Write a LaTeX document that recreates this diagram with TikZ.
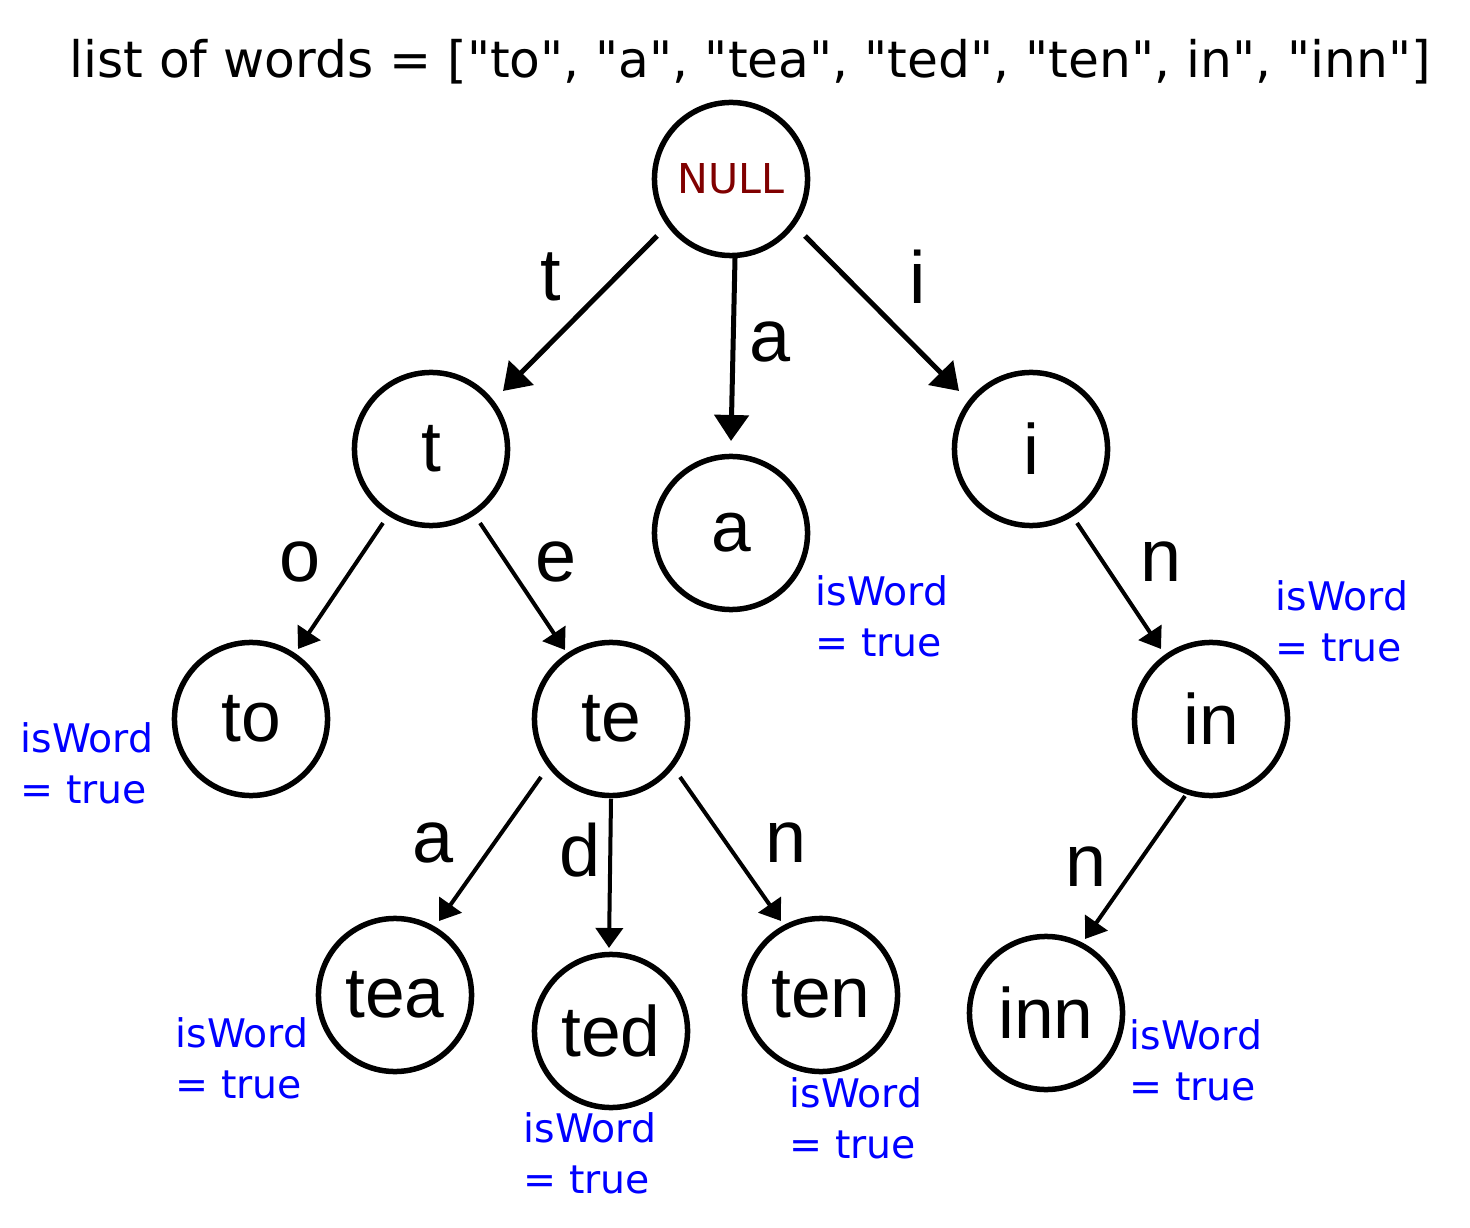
\documentclass[tikz,border=0pt]{standalone}
\usepackage{fontspec}
\setmainfont{DejaVu Sans}[Ligatures=TeXOff]
\newfontfamily\arialf{Liberation Sans}
\usetikzlibrary{arrows.meta}
\definecolor{nullred}{RGB}{128,0,0}
\begin{document}
\begin{tikzpicture}[x=0.01cm,y=-0.01cm,
  tnode/.style={circle,draw,line width=0.055cm,minimum size=1.53cm,inner sep=0pt,font=\arialf\fontsize{20.3pt}{24pt}\selectfont},
  elab/.style={inner sep=0pt,font=\arialf\fontsize{21pt}{24pt}\selectfont},
  iw/.style={text=blue,align=left,anchor=north west,inner sep=0pt,font=\fontsize{11.2pt}{14.4pt}\selectfont},
  bigarr/.style={line width=0.05cm,-{Triangle[length=0.26cm,width=0.34cm]}},
  smallarr/.style={line width=0.04cm,-{Triangle[length=0.2cm,width=0.27cm]}}]
\useasboundingbox[fill=white] (0,0) rectangle (1470,1228);

\node[inner sep=0pt,font=\fontsize{14.3pt}{17pt}\selectfont] (title) at (750,62) {list of words = ["to", "a", "tea", "ted", "ten", in", "inn"]};

\node[tnode,font=\fontsize{11.7pt}{14pt}\selectfont,text=nullred] (root) at (731,179) {NULL};
\node[tnode] (t) at (431,449) {t};
\node[tnode] (a) at (731,533) {a};
\node[tnode] (i) at (1031,449) {i};
\node[tnode] (to) at (251,719) {to};
\node[tnode] (te) at (611,719) {te};
\node[tnode] (in) at (1211,719) {in};
\node[tnode] (tea) at (395,995) {tea};
\node[tnode] (ted) at (611,1031) {ted};
\node[tnode] (ten) at (821,995) {ten};
\node[tnode] (inn) at (1046,1013) {inn};

\draw[bigarr] ([shift={(-74,57)}]root.center) -- ([shift={(72,-58)}]t.center);
\draw[bigarr] ([shift={(4,79)}]root.center) -- ([shift={(0,-92)}]a.center);
\draw[bigarr] ([shift={(74,57)}]root.center) -- ([shift={(-72,-58)}]i.center);
\draw[smallarr] ([shift={(-48,74)}]t.center) -- ([shift={(47,-70)}]to.center);
\draw[smallarr] ([shift={(49,74)}]t.center) -- ([shift={(-46,-69)}]te.center);
\draw[smallarr] ([shift={(-70,58)}]te.center) -- ([shift={(44,-74)}]tea.center);
\draw[smallarr] ([shift={(0,80)}]te.center) -- ([shift={(-2,-83)}]ted.center);
\draw[smallarr] ([shift={(69,58)}]te.center) -- ([shift={(-40,-74)}]ten.center);
\draw[smallarr] ([shift={(46,74)}]i.center) -- ([shift={(-50,-70)}]in.center);
\draw[smallarr] ([shift={(-26,77)}]in.center) -- ([shift={(39,-74)}]inn.center);

\node[elab] (lt) at (551,277) {t};
\node[elab] (la) at (770,342) {a};
\node[elab] (li) at (918,277) {i};
\node[elab] (lo) at (300,562) {o};
\node[elab] (le) at (556,562) {e};
\node[elab] (lta) at (433,843) {a};
\node[elab] (ld) at (580,850) {d};
\node[elab] (ln) at (786,843) {n};
\node[elab] (lin) at (1161,562) {n};
\node[elab] (linn) at (1086,867) {n};

\node[iw] (wa) at (815,575) {isWord\\= true};
\node[iw] (win) at (1275,580) {isWord\\= true};
\node[iw] (wto) at (20,722) {isWord\\= true};
\node[iw] (wtea) at (175,1017) {isWord\\= true};
\node[iw] (wted) at (523,1112) {isWord\\= true};
\node[iw] (wten) at (789,1077) {isWord\\= true};
\node[iw] (winn) at (1129,1019) {isWord\\= true};
\end{tikzpicture}
\end{document}
